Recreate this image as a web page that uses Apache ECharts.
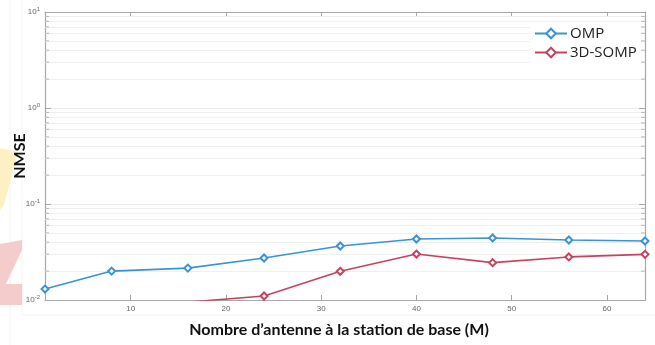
<!DOCTYPE html>
<html>
<head>
<meta charset="utf-8">
<script src="https://cdn.jsdelivr.net/npm/echarts@6/dist/echarts.min.js"></script>
<style>html,body{margin:0;padding:0;background:#fff}#c{width:655px;height:345px}</style>
</head>
<body>
<div id="c"></div>
<script>
const xOMP = [1, 8, 16, 24, 32, 40, 48, 56, 64];
const yOMP = [0.0130, 0.0200, 0.0215, 0.0274, 0.0365, 0.0432, 0.0443, 0.0422, 0.0412];
const xSOMP = [16, 24, 32, 40, 48, 56, 64];
const ySOMP = [0.0095, 0.0110, 0.0199, 0.0301, 0.0245, 0.0281, 0.0299];
const xTicks = [10, 20, 30, 40, 50, 60];
const yMinorVals = [0.02,0.03,0.04,0.05,0.06,0.07,0.08,0.09,0.2,0.3,0.4,0.5,0.6,0.7,0.8,0.9,2,3,4,5,6,7,8,9];
const seriesNames = ['OMP', '3D-SOMP'];
const xName = 'Nombre d\u2019antenne à la station de base (M)';
const yName = 'NMSE';

const axisGray = '#a8a8a8';
const labelGray = '#666';

function zip(xs, ys) { return xs.map((x, i) => [x, ys[i]]); }

const chart = echarts.init(document.getElementById('c'), null, {renderer: 'canvas'});
const option = {
  backgroundColor: '#ffffff',
  animation: false,
  graphic: [
    {type: 'line', shape: {x1: 10, y1: 0, x2: 10, y2: 345}, style: {stroke: '#f2f2f2', lineWidth: 1}, z: -10},
    {type: 'line', shape: {x1: 22, y1: 0, x2: 22, y2: 315}, style: {stroke: '#f4f4f4', lineWidth: 1}, z: -10},
    {type: 'line', shape: {x1: 22, y1: 315, x2: 655, y2: 315}, style: {stroke: '#f4f4f4', lineWidth: 1}, z: -10},
    {type: 'polygon', shape: {points: [[0,148],[18,152],[4,205],[0,210]]}, style: {fill: '#fdf1c4'}, z: -5},
    {type: 'polygon', shape: {points: [[0,244],[22,240],[22,250],[6,284],[22,284],[22,305],[0,305]]}, style: {fill: '#f5cccc'}, z: -5}
  ],
  grid: {left: 45, right: 10, top: 12, bottom: 45, containLabel: false, outerBoundsMode: 'none'},
  legend: {
    orient: 'vertical',
    left: 530,
    top: 23,
    z: 20,
    itemWidth: 32,
    itemHeight: 12,
    itemGap: 4,
    padding: [3, 4, 3, 4],
    backgroundColor: '#ffffff',
    data: seriesNames,
    textStyle: {fontFamily: 'Open Sans', fontSize: 15, color: '#222', padding: [0,0,0,-2]}
  },
  xAxis: [
    {
      type: 'value', min: 1, max: 64, position: 'bottom',
      name: xName, nameLocation: 'middle', nameGap: 22, nameMoveOverlap: false,
      nameTextStyle: {fontFamily: 'Lato', fontWeight: 'bold', fontSize: 16, color: '#111', padding: [0, 12, 0, 0]},
      axisLine: {show: true, onZero: false, lineStyle: {color: axisGray, width: 1.2}},
      axisTick: {show: true, inside: true, length: 5, customValues: xTicks, lineStyle: {color: axisGray}},
      axisLabel: {show: true, customValues: xTicks, fontSize: 8, color: labelGray, margin: 5, fontFamily: 'Liberation Sans'},
      splitLine: {show: false}
    },
    {
      type: 'value', min: 1, max: 64, position: 'top',
      axisLine: {show: true, onZero: false, lineStyle: {color: axisGray, width: 1.2}},
      axisTick: {show: true, inside: true, length: 5, customValues: xTicks, lineStyle: {color: axisGray}},
      axisLabel: {show: false},
      splitLine: {show: false}
    }
  ],
  yAxis: [
    {
      type: 'log', logBase: 10, min: 0.01, max: 10, position: 'left',
      name: yName, nameLocation: 'middle', nameGap: 17, nameMoveOverlap: false,
      nameTextStyle: {fontFamily: 'Lato', fontWeight: 'bold', fontSize: 16, color: '#111'},
      axisLine: {show: true, onZero: false, lineStyle: {color: axisGray, width: 1.2}},
      axisTick: {show: true, inside: true, length: 6, lineStyle: {color: axisGray}},
      axisLabel: {
        show: true, margin: 5,
        formatter: function (v) {
          const e = Math.round(Math.log10(v));
          return '{b|10}{s|' + e + '}';
        },
        rich: {
          b: {fontSize: 8, color: labelGray, fontFamily: 'Liberation Sans'},
          s: {fontSize: 6, color: labelGray, fontFamily: 'Liberation Sans', verticalAlign: 'top', padding: [0,0,5,0]}
        }
      },
      splitLine: {show: true, lineStyle: {color: '#ececec', width: 1}}
    },
    {
      type: 'log', logBase: 10, min: 0.01, max: 10, position: 'right',
      axisLine: {show: true, onZero: false, lineStyle: {color: axisGray, width: 1.2}},
      axisTick: {show: true, inside: true, length: 6, lineStyle: {color: axisGray}},
      axisLabel: {show: false},
      splitLine: {show: false}
    }
  ],
  series: [
    {
      name: '_grid', type: 'scatter', silent: true, xAxisIndex: 0, yAxisIndex: 0,
      data: yMinorVals.map(v => [1, v]),
      symbol: 'rect', symbolSize: [4, 1], symbolOffset: [2, 0],
      itemStyle: {color: axisGray}, z: 1,
      markLine: {
        silent: true, symbol: 'none', label: {show: false}, animation: false, z: 1,
        lineStyle: {color: '#efefef', type: 'solid', width: 1},
        data: yMinorVals.map(v => ({yAxis: v}))
      }
    },
    {
      name: '_gridR', type: 'scatter', silent: true, xAxisIndex: 0, yAxisIndex: 0,
      data: yMinorVals.map(v => [64, v]),
      symbol: 'rect', symbolSize: [4, 1], symbolOffset: [-2, 0],
      itemStyle: {color: axisGray}, z: 1
    },
    {
      name: seriesNames[0], type: 'line', xAxisIndex: 0, yAxisIndex: 0,
      data: zip(xOMP, yOMP), clip: true,
      symbol: 'emptyDiamond', symbolSize: 7, showAllSymbol: true,
      lineStyle: {color: '#3a93d6', width: 1.6},
      itemStyle: {color: '#3a93d6', borderWidth: 1.6},
      z: 5
    },
    {
      name: seriesNames[1], type: 'line', xAxisIndex: 0, yAxisIndex: 0,
      data: zip(xSOMP, ySOMP), clip: true,
      symbol: 'emptyDiamond', symbolSize: 7, showAllSymbol: true,
      lineStyle: {color: '#c8425d', width: 1.6},
      itemStyle: {color: '#c8425d', borderWidth: 1.6},
      z: 5
    }
  ]
};
chart.setOption(option);
</script>
</body>
</html>
